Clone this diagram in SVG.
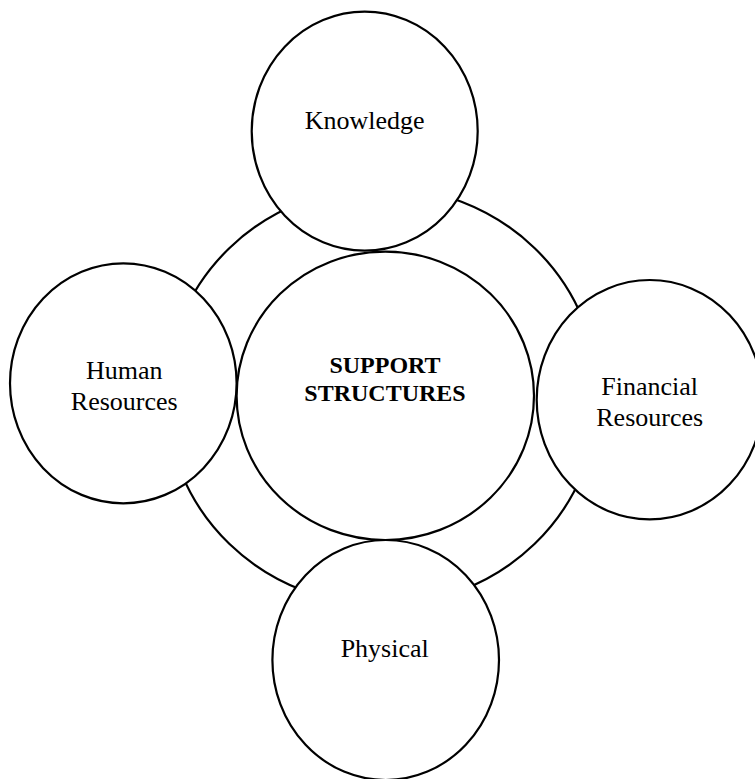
<svg xmlns="http://www.w3.org/2000/svg" width="755" height="779" viewBox="0 0 755 779">
  <style>
    .shape { fill: #ffffff; stroke: #000000; stroke-width: 2.2; }
    .label { font-family: "Liberation Serif", "Times New Roman", serif; font-size: 26px; fill: #000000; text-anchor: middle; }
    .core { font-family: "Liberation Serif", "Times New Roman", serif; font-size: 24px; font-weight: bold; fill: #000000; text-anchor: middle; }
  </style>
  <rect width="755" height="779" fill="#ffffff"/>

  <!-- outer ring linking the satellites -->
  <g id="connectors">
    <ellipse cx="382" cy="396" rx="216" ry="209" fill="none" stroke="#000000" stroke-width="2.2"/>
  </g>

  <g id="support-structures">
    <ellipse class="shape" cx="385.3" cy="395.8" rx="148.7" ry="144.2"/>
    <text class="core" x="385" y="373.3">SUPPORT</text>
    <text class="core" x="385" y="400.5">STRUCTURES</text>
  </g>

  <g id="knowledge">
    <ellipse class="shape" cx="364.7" cy="131.2" rx="113" ry="119.5"/>
    <text class="label" x="364.7" y="128.5">Knowledge</text>
  </g>

  <g id="human-resources">
    <ellipse class="shape" cx="123.3" cy="383.3" rx="113.3" ry="120"/>
    <text class="label" x="124.3" y="379">Human</text>
    <text class="label" x="124.3" y="410">Resources</text>
  </g>

  <g id="financial-resources">
    <ellipse class="shape" cx="649.7" cy="399.7" rx="113" ry="119.7"/>
    <text class="label" x="649.7" y="395">Financial</text>
    <text class="label" x="649.7" y="426">Resources</text>
  </g>

  <g id="physical">
    <ellipse class="shape" cx="385.7" cy="660" rx="113.3" ry="120"/>
    <text class="label" x="384.7" y="656.7">Physical</text>
  </g>
</svg>
